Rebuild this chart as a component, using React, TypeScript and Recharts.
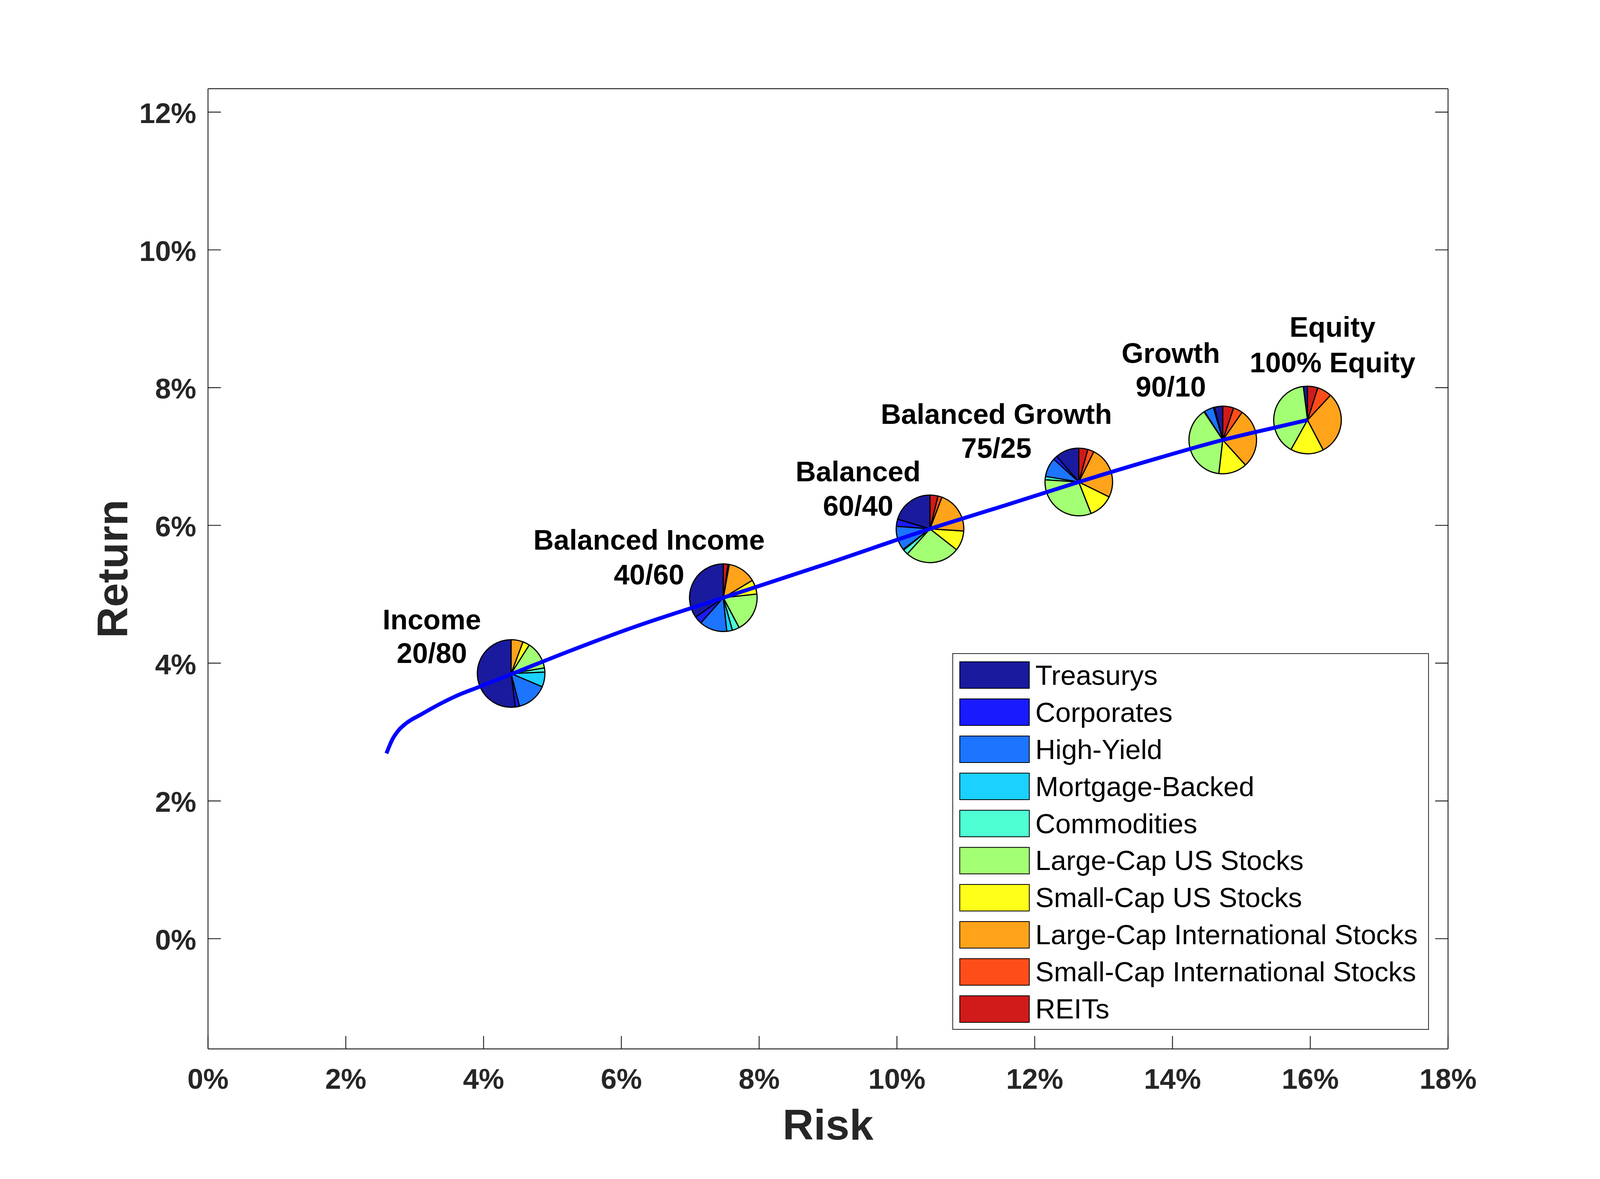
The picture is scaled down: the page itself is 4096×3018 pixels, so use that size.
import React from 'react';
import { ComposedChart, Scatter, XAxis, YAxis, Legend, Sector } from 'recharts';

// Asset classes, in the order the slices are laid out (counter-clockwise from 12 o'clock)
const ASSETS = [
  'Treasurys',
  'Corporates',
  'High-Yield',
  'Mortgage-Backed',
  'Commodities',
  'Large-Cap US Stocks',
  'Small-Cap US Stocks',
  'Large-Cap International Stocks',
  'Small-Cap International Stocks',
  'REITs'
];
const ASSET_COLORS = [
  '#1A1A9E',
  '#1A1AFF',
  '#1C74FF',
  '#1AD1FF',
  '#4DFFD2',
  '#A3FF73',
  '#FFFF1A',
  '#FFA31A',
  '#FF4D1A',
  '#D11A1A'
];

// Model portfolios (risk / return in %)
const PORTFOLIO_NAMES = ['Income', 'Balanced Income', 'Balanced', 'Balanced Growth', 'Growth', 'Equity'];
const PORTFOLIO_MIX = ['20/80', '40/60', '60/40', '75/25', '90/10', '100% Equity'];
const PORTFOLIO_RISK = [4.40, 7.48, 10.48, 12.64, 14.73, 15.96];
const PORTFOLIO_RETURN = [3.85, 4.95, 5.95, 6.63, 7.24, 7.53];

// Allocations (% of portfolio), same order as ASSETS
const ALLOC_INCOME = [52.0, 2.0, 14.6, 7.1, 2.0, 13.3, 3.3, 5.7, 0, 0];
const ALLOC_BAL_INCOME = [34.7, 3.7, 13.2, 2.7, 3.4, 19.0, 6.8, 13.6, 0.6, 2.2];
const ALLOC_BALANCED = [20.4, 3.4, 11.6, 0.4, 2.5, 26.1, 9.6, 20.3, 1.9, 3.8];
const ALLOC_BAL_GROWTH = [11.3, 2.0, 9.1, 0, 1.6, 32.0, 11.8, 25.0, 3.0, 4.3];
const ALLOC_GROWTH = [4.0, 0.5, 4.6, 0.3, 0, 38.9, 13.6, 28.7, 4.5, 5.2];
const ALLOC_EQUITY = [2.0, 0, 0, 0, 0, 39.9, 15.8, 30.4, 7.0, 4.9];
const ALLOCATIONS = [ALLOC_INCOME, ALLOC_BAL_INCOME, ALLOC_BALANCED, ALLOC_BAL_GROWTH, ALLOC_GROWTH, ALLOC_EQUITY];

// Efficient frontier
const FRONTIER_RISK = [2.59, 2.68, 2.77, 2.88, 3.10, 3.37, 3.64, 3.92, 4.40, 5.13, 6.20, 7.48, 9.00, 10.48, 11.60, 12.64, 13.70, 14.73, 15.40, 15.96];
const FRONTIER_RETURN = [2.69, 2.90, 3.03, 3.13, 3.26, 3.41, 3.54, 3.65, 3.84, 4.13, 4.53, 4.95, 5.45, 5.95, 6.30, 6.63, 6.95, 7.24, 7.40, 7.53];

const X_TICKS = [0, 2, 4, 6, 8, 10, 12, 14, 16, 18];
const Y_TICKS = [0, 2, 4, 6, 8, 10, 12];

// Label placement relative to each pie centre (px)
const LABEL_DX = [-203, -190, -184, -211, -133, 64];
const LABEL_LINE1 = [-113, -123, -122, -149, -197, -213];
const LABEL_LINE2 = [-27, -34, -34, -62, -111, -122];

const FONT = '"Liberation Sans", Arial, Helvetica, sans-serif';
const AXIS_COLOR = '#262626';
const TICK_LEN = 33;
const AXIS_WIDTH = 2.4;
const PIE_RADIUS = 86.5;

const frontierData = FRONTIER_RISK.map((risk, i) => ({ risk, ret: FRONTIER_RETURN[i] }));
const portfolioData = PORTFOLIO_NAMES.map((name, i) => ({
  risk: PORTFOLIO_RISK[i],
  ret: PORTFOLIO_RETURN[i],
  name,
  mix: PORTFOLIO_MIX[i],
  alloc: ALLOCATIONS[i],
  idx: i
}));

const PieMarker = (props: any) => {
  const { cx, cy, payload } = props;
  if (cx == null || cy == null || !payload) return <g />;
  const total = payload.alloc.reduce((s: number, v: number) => s + v, 0);
  let angle = 90;
  const slices: React.ReactNode[] = [];
  payload.alloc.forEach((v: number, k: number) => {
    if (v <= 0) return;
    const sweep = (v / total) * 360;
    slices.push(
      <Sector
        key={k}
        cx={cx}
        cy={cy}
        innerRadius={0}
        outerRadius={PIE_RADIUS}
        startAngle={angle}
        endAngle={angle + sweep}
        fill={ASSET_COLORS[k]}
        stroke="#000"
        strokeWidth={3}
        strokeLinejoin="round"
      />
    );
    angle += sweep;
  });
  const i = payload.idx;
  const textProps = {
    textAnchor: 'middle' as const,
    fontFamily: FONT,
    fontWeight: 'bold',
    fontSize: 72,
    fill: '#000'
  };
  return (
    <g>
      {slices}
      <text x={cx + LABEL_DX[i]} y={cy + LABEL_LINE1[i]} {...textProps}>{payload.name}</text>
      <text x={cx + LABEL_DX[i]} y={cy + LABEL_LINE2[i]} {...textProps}>{payload.mix}</text>
    </g>
  );
};

// frontier points themselves are not marked, only the joining line
const NoMarker = () => <g />;

const tickText = {
  fontFamily: FONT,
  fontWeight: 'bold',
  fontSize: 73,
  fill: AXIS_COLOR
};

const BottomTick = ({ x, y, payload }: any) => (
  <g>
    <line x1={x} y1={y} x2={x} y2={y - TICK_LEN} stroke={AXIS_COLOR} strokeWidth={AXIS_WIDTH} />
    <text x={x} y={y + 102} textAnchor="middle" {...tickText}>{`${payload.value}%`}</text>
  </g>
);

const LeftTick = ({ x, y, payload }: any) => (
  <g>
    <line x1={x} y1={y} x2={x + TICK_LEN} y2={y} stroke={AXIS_COLOR} strokeWidth={AXIS_WIDTH} />
    <text x={x - 30} y={y + 28} textAnchor="end" {...tickText}>{`${payload.value}%`}</text>
  </g>
);

const TopTick = ({ x, y }: any) => (
  <line x1={x} y1={y} x2={x} y2={y + TICK_LEN} stroke={AXIS_COLOR} strokeWidth={AXIS_WIDTH} />
);

const RightTick = ({ x, y }: any) => (
  <line x1={x} y1={y} x2={x - TICK_LEN} y2={y} stroke={AXIS_COLOR} strokeWidth={AXIS_WIDTH} />
);

const LegendBox = () => (
  <div
    style={{
      position: 'relative',
      width: 1220,
      height: 964,
      boxSizing: 'border-box',
      border: `${AXIS_WIDTH}px solid ${AXIS_COLOR}`,
      background: '#fff',
      fontFamily: FONT
    }}
  >
    {ASSETS.map((name, k) => (
      <div
        key={name}
        style={{
          position: 'absolute',
          left: 0,
          top: 7 + k * 94.9,
          height: 94.9,
          display: 'flex',
          alignItems: 'center'
        }}
      >
        <div
          style={{
            marginLeft: 15.6,
            width: 180,
            height: 70,
            boxSizing: 'border-box',
            background: ASSET_COLORS[k],
            border: '2.4px solid #000'
          }}
        />
        <span style={{ marginLeft: 15, fontSize: 71, lineHeight: 1, color: '#000', whiteSpace: 'nowrap' }}>
          {name}
        </span>
      </div>
    ))}
  </div>
);

const axisLine = { stroke: AXIS_COLOR, strokeWidth: AXIS_WIDTH };

export default function App() {
  return (
    <div style={{ width: 4096, height: 3018, background: '#fff' }}>
      <style>{'body { margin: 0; }'}</style>
      <ComposedChart
        width={4096}
        height={3018}
        margin={{ top: 226, right: 388, bottom: 0, left: 0 }}
      >
        <XAxis
          dataKey="risk"
          type="number"
          domain={[0, 18]}
          ticks={X_TICKS}
          interval={0}
          allowDataOverflow
          height={333}
          tickSize={0}
          tickMargin={0}
          tickLine={false}
          axisLine={axisLine}
          tick={<BottomTick />}
          label={{
            content: ({ viewBox }: any) => (
              <text
                x={viewBox.x + viewBox.width / 2}
                y={viewBox.y + 232}
                textAnchor="middle"
                fontFamily={FONT}
                fontWeight="bold"
                fontSize={110}
                fill={AXIS_COLOR}
              >
                Risk
              </text>
            )
          }}
        />
        <XAxis
          xAxisId="top"
          orientation="top"
          type="number"
          domain={[0, 18]}
          ticks={X_TICKS}
          interval={0}
          allowDataOverflow
          height={1}
          tickSize={0}
          tickMargin={0}
          tickLine={false}
          axisLine={axisLine}
          tick={<TopTick />}
        />
        <YAxis
          dataKey="ret"
          type="number"
          domain={[-1.6, 12.34]}
          ticks={Y_TICKS}
          interval={0}
          allowDataOverflow
          width={532.5}
          tickSize={0}
          tickMargin={0}
          tickLine={false}
          axisLine={axisLine}
          tick={<LeftTick />}
          label={{
            content: ({ viewBox }: any) => {
              const x = viewBox.x + 326;
              const y = viewBox.y + viewBox.height / 2;
              return (
                <text
                  x={x}
                  y={y}
                  transform={`rotate(-90, ${x}, ${y})`}
                  textAnchor="middle"
                  fontFamily={FONT}
                  fontWeight="bold"
                  fontSize={110}
                  fill={AXIS_COLOR}
                >
                  Return
                </text>
              );
            }
          }}
        />
        <YAxis
          yAxisId="right"
          orientation="right"
          type="number"
          domain={[-1.6, 12.34]}
          ticks={Y_TICKS}
          interval={0}
          allowDataOverflow
          width={1}
          tickSize={0}
          tickMargin={0}
          tickLine={false}
          axisLine={axisLine}
          tick={<RightTick />}
        />
        {/* pies first, frontier drawn over them */}
        <Scatter
          data={portfolioData}
          dataKey="ret"
          shape={PieMarker}
          isAnimationActive={false}
          zIndex={600}
        />
        <Scatter
          data={frontierData}
          dataKey="ret"
          fill="#0000FF"
          line={{ stroke: '#0000FF', strokeWidth: 10 }}
          lineType="joint"
          lineJointType="monotoneX"
          shape={NoMarker}
          isAnimationActive={false}
          zIndex={610}
        />
        <Legend
          layout="vertical"
          align="center"
          verticalAlign="middle"
          content={() => <LegendBox />}
          wrapperStyle={{ left: 2438, top: 1672, width: 1220, height: 964 }}
        />
      </ComposedChart>
    </div>
  );
}
